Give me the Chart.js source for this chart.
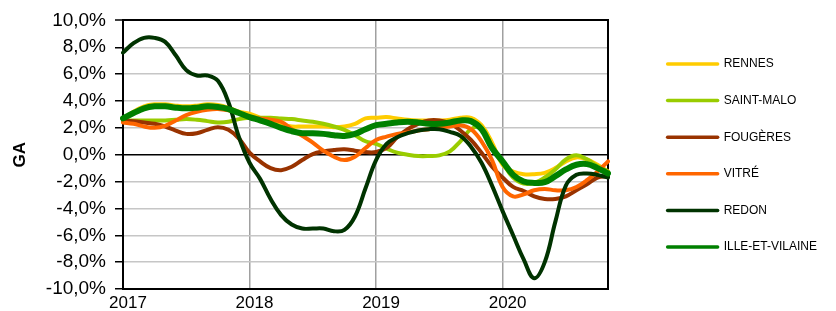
<!DOCTYPE html>
<html><head><meta charset="utf-8">
<script src="https://cdn.jsdelivr.net/npm/chart.js@4/dist/chart.umd.min.js"></script>
<style>html,body{margin:0;padding:0;background:#fff}</style>
</head><body>
<canvas id="c" width="836" height="311"></canvas>
<script>
const months = ['2017-01','2017-02','2017-03','2017-04','2017-05','2017-06','2017-07','2017-08','2017-09','2017-10','2017-11','2017-12',
'2018-01','2018-02','2018-03','2018-04','2018-05','2018-06','2018-07','2018-08','2018-09','2018-10','2018-11','2018-12',
'2019-01','2019-02','2019-03','2019-04','2019-05','2019-06','2019-07','2019-08','2019-09','2019-10','2019-11','2019-12',
'2020-01','2020-02','2020-03','2020-04','2020-05','2020-06','2020-07','2020-08','2020-09','2020-10','2020-11'];

const rennes = [2.6,3.2,3.6,3.75,3.75,3.65,3.6,3.65,3.75,3.7,3.5,3.2,
3.05,2.75,2.5,2.25,2.1,2.1,2.1,2.1,2.05,2.1,2.3,2.7,
2.75,2.8,2.7,2.6,2.55,2.55,2.55,2.6,2.75,2.75,2.2,0.9,
-0.75,-1.25,-1.45,-1.45,-1.35,-1.0,-0.5,-0.2,-0.35,-0.75,-1.25];
const saintMalo = [2.55,2.55,2.55,2.55,2.55,2.6,2.65,2.6,2.5,2.4,2.45,2.65,
2.75,2.75,2.75,2.7,2.65,2.55,2.45,2.3,2.1,1.85,1.45,1.0,
0.8,0.45,0.15,0.0,-0.1,-0.1,-0.05,0.25,1.0,1.9,2.0,0.6,
-0.6,-1.7,-2.15,-2.1,-1.7,-1.1,-0.35,-0.05,-0.35,-0.85,-1.25];
const fougeres = [2.55,2.5,2.4,2.3,2.1,1.8,1.55,1.6,1.85,2.05,1.85,1.2,
0.15,-0.5,-1.0,-1.15,-0.9,-0.4,0.05,0.25,0.35,0.4,0.3,0.2,
0.2,0.5,1.3,1.9,2.3,2.55,2.55,2.35,1.8,1.1,0.15,-0.9,
-1.7,-2.4,-2.7,-3.1,-3.3,-3.3,-3.1,-2.65,-2.2,-1.7,-1.6];
const vitre = [2.4,2.3,2.1,2.0,2.15,2.55,2.95,3.2,3.35,3.4,3.3,3.1,
2.85,2.7,2.6,2.45,1.9,1.4,0.9,0.3,-0.15,-0.4,-0.15,0.5,
1.1,1.35,1.55,1.65,1.8,1.9,2.05,2.1,2.2,1.9,1.0,-0.4,
-2.4,-3.1,-2.95,-2.65,-2.55,-2.65,-2.65,-2.4,-1.9,-1.25,-0.5];
const redon = [7.6,8.3,8.7,8.7,8.4,7.4,6.3,5.9,5.9,5.5,3.9,1.3,
-0.6,-1.8,-3.3,-4.5,-5.2,-5.5,-5.5,-5.5,-5.7,-5.6,-4.6,-2.5,
-0.4,0.8,1.3,1.6,1.8,1.9,1.9,1.7,1.4,0.6,-0.6,-2.3,
-4.2,-6.0,-7.8,-9.2,-8.0,-5.0,-2.3,-1.5,-1.4,-1.5,-1.7];
const illeEtVilaine = [2.7,3.1,3.45,3.6,3.6,3.5,3.45,3.5,3.6,3.55,3.4,3.1,
2.8,2.56,2.3,2.0,1.75,1.6,1.6,1.55,1.45,1.4,1.55,1.9,
2.2,2.3,2.4,2.45,2.4,2.3,2.3,2.4,2.55,2.5,1.9,0.5,
-0.5,-1.5,-2.0,-2.1,-2.05,-1.6,-1.1,-0.75,-0.7,-1.0,-1.4];

const seriesNames = ['RENNES','SAINT-MALO','FOUGÈRES','VITRÉ','REDON','ILLE-ET-VILAINE'];
const seriesValues = [rennes, saintMalo, fougeres, vitre, redon, illeEtVilaine];
const seriesColors = ['#FFCC00','#99CC00','#993300','#FF6600','#003300','#008000'];
const seriesWidths = [4,4,4,4,4,6];

const FONT = "'Liberation Sans', Arial, sans-serif";
Chart.defaults.font.family = FONT;

const datasets = seriesNames.map((name, i) => ({
  label: name,
  data: seriesValues[i],
  borderColor: seriesColors[i],
  backgroundColor: seriesColors[i],
  borderWidth: seriesWidths[i],
  pointRadius: 0,
  tension: 0.4,
  fill: false,
  borderCapStyle: 'round',
  borderJoinStyle: 'round',
  order: seriesNames.length - 1 - i
}));

new Chart(document.getElementById('c'), {
  type: 'line',
  data: { labels: months, datasets },
  options: {
    responsive: false,
    animation: false,
    layout: { padding: { left: 0, right: 9, top: 0, bottom: 0 } },
    plugins: {
      title: { display: true, text: '', fullSize: false, padding: { top: 7, bottom: 0 }, font: { size: 10, lineHeight: 1 } },
      tooltip: { enabled: false },
      legend: {
        position: 'right',
        align: 'center',
        maxWidth: 300,
        labels: {
          usePointStyle: true,
          pointStyle: 'line',
          pointStyleWidth: 50,
          boxHeight: 12,
          padding: 24.6,
          color: '#000',
          font: { size: 12, family: FONT },
          sort: (a, b) => a.datasetIndex - b.datasetIndex,
          generateLabels: (chart) => Chart.defaults.plugins.legend.labels.generateLabels(chart)
            .map(l => Object.assign(l, { lineWidth: 3.5, lineCap: 'round' }))
        }
      }
    },
    scales: {
      x: {
        type: 'category',
        grid: {
          color: (ctx) => (ctx.index % 12 === 0 && ctx.index > 0) ? '#a0a0a0' : 'rgba(0,0,0,0)',
          lineWidth: 1.5,
          drawTicks: false
        },
        border: { color: '#000', width: 2 },
        ticks: {
          autoSkip: false, maxRotation: 0, padding: 4, labelOffset: 5,
          color: '#000', font: { size: 17 },
          callback: (v, i) => (i % 12 === 0) ? months[i].slice(0, 4) : ''
        },
        afterFit: (s) => { s.height = 22; }
      },
      y: {
        min: -10, max: 10,
        ticks: {
          stepSize: 2, padding: 9, color: '#000', font: { size: 19 },
          callback: (v) => v.toFixed(1).replace('.', ',') + '%'
        },
        grid: {
          color: (ctx) => (ctx.tick && (ctx.tick.value === 0 || ctx.tick.value === 10)) ? '#000' : '#c6c6c6',
          lineWidth: (ctx) => (ctx.tick && ctx.tick.value === 10) ? 2 : 1.5,
          tickColor: '#000', tickLength: 8, tickWidth: 1.5
        },
        border: { color: '#000', width: 2 },
        title: { display: true, text: 'GA', color: '#000', font: { size: 17, weight: 'bold' }, padding: { top: 10, bottom: 0 } },
        afterFit: (s) => { s.width = 123; }
      },
      y2: {
        position: 'right', min: -10, max: 10,
        grid: { drawOnChartArea: false, drawTicks: false },
        ticks: { display: false },
        border: { color: '#000', width: 2 },
        afterFit: (s) => { s.width = 35; }
      }
    }
  }
});
</script>
</body></html>
